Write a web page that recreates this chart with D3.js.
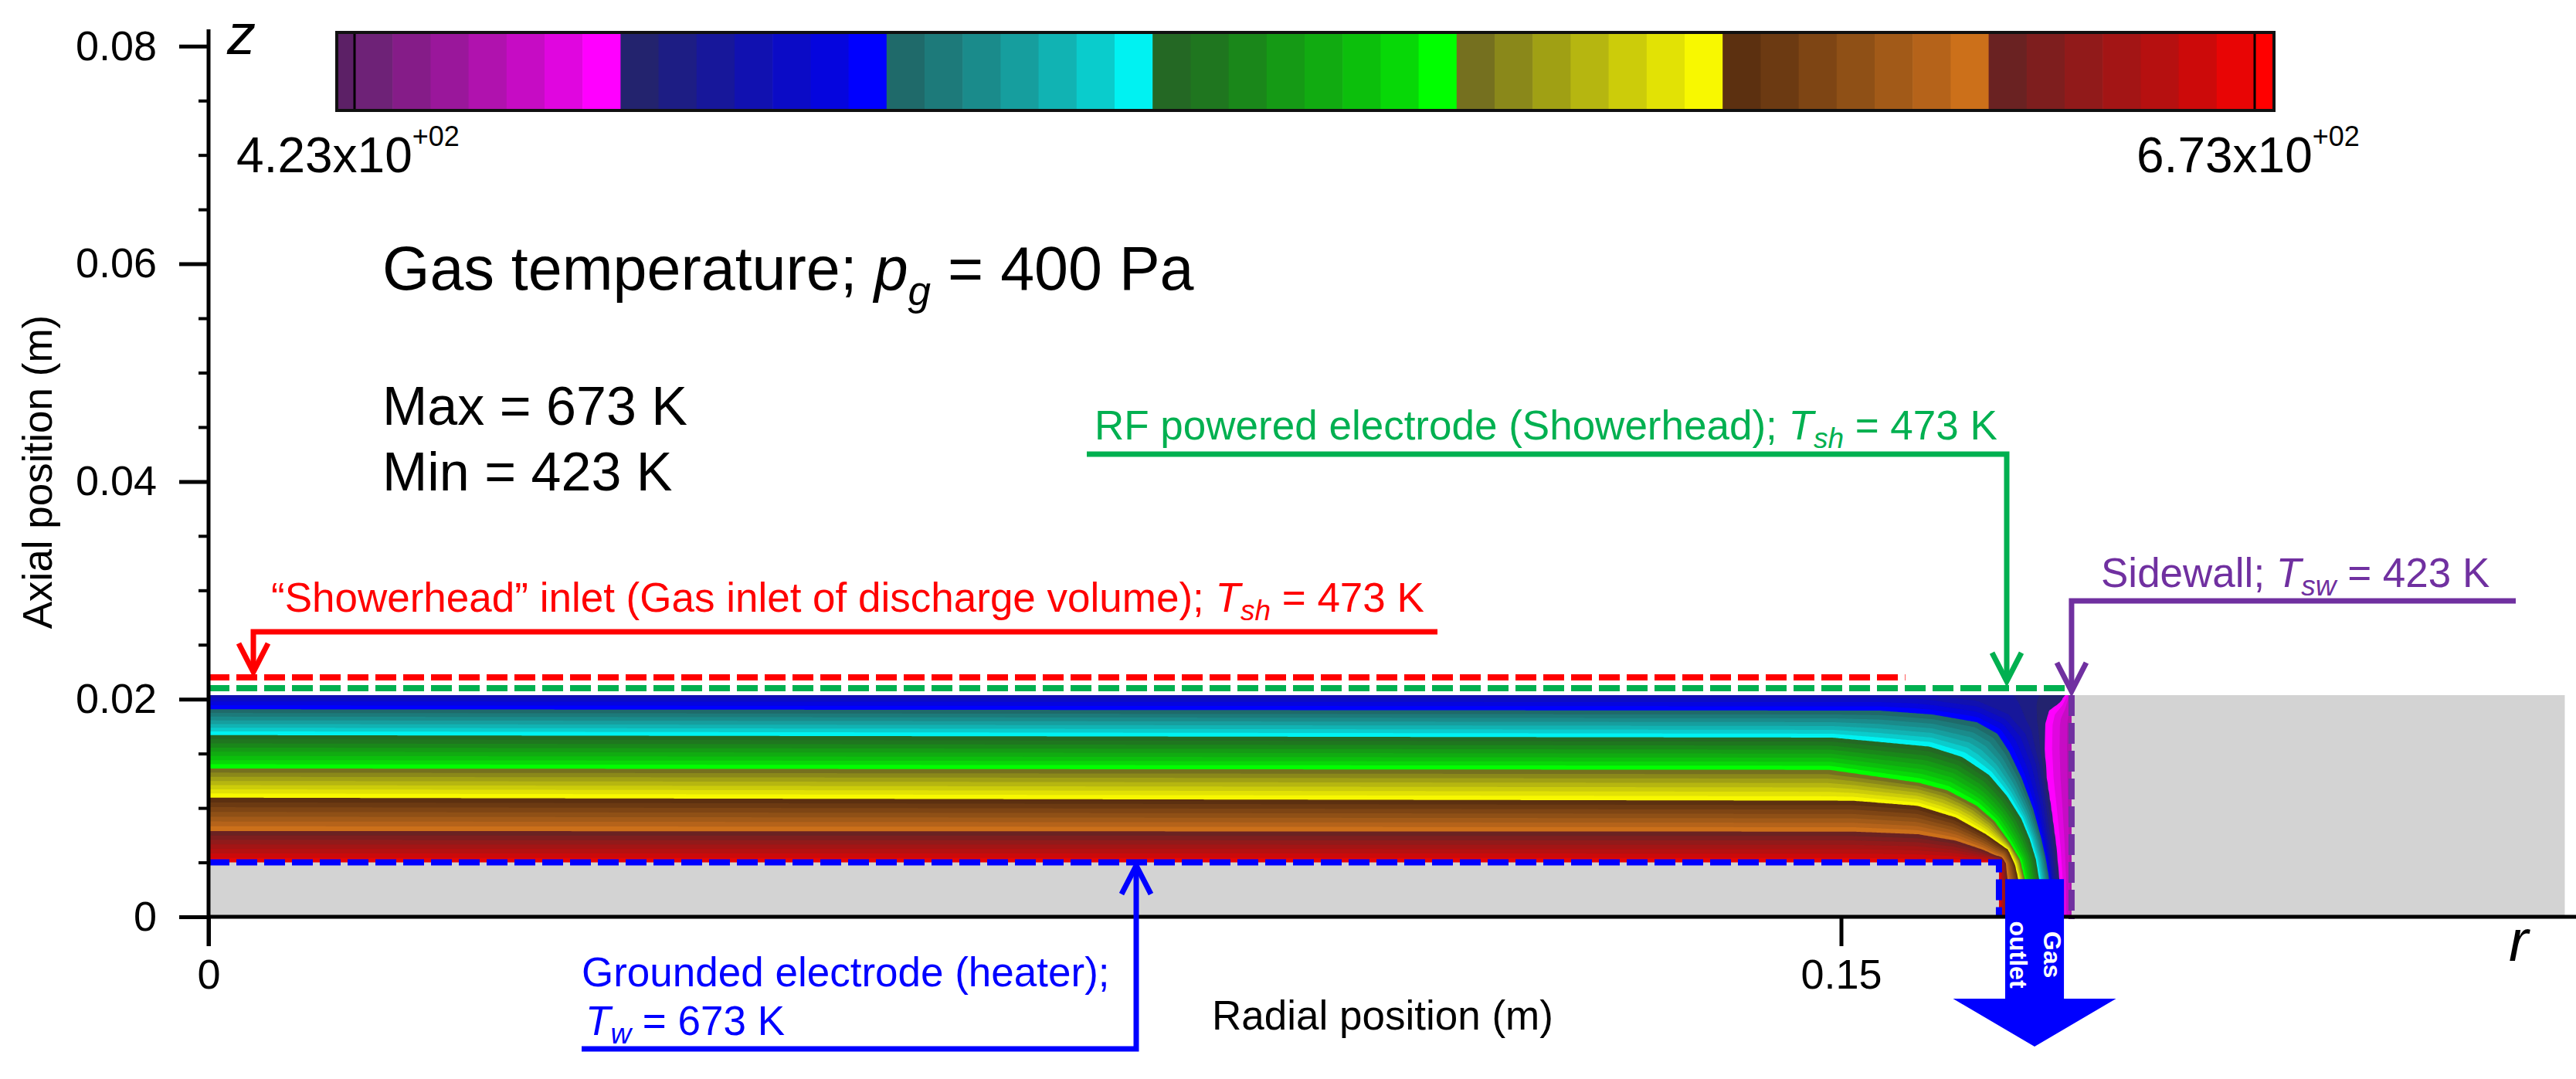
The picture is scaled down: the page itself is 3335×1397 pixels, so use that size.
<!DOCTYPE html>
<html><head><meta charset="utf-8">
<script src="https://cdn.jsdelivr.net/npm/d3@7"></script>
<style>
body{margin:0;background:#fff}
svg{display:block}
text{font-family:"Liberation Sans",Arial,Helvetica,sans-serif;white-space:pre}
</style>
</head><body>
<svg id="chart" width="3335" height="1397"></svg>
<script>
// ===================== DATA =====================
const tempMin = 423, tempMax = 673;      // K (colour range, Min / Max)
const levelStep = 5;                      // K between contour levels
const pressure = 400;                     // Pa
const yTicksMajor = [0, 0.02, 0.04, 0.06, 0.08];
const yTicksMinor = [0.005, 0.01, 0.015, 0.025, 0.03, 0.035, 0.045, 0.05, 0.055, 0.065, 0.07, 0.075];
const xTicksMajor = [0, 0.15];

// reactor geometry (m)
const zTop = 0.02037;          // showerhead surface
const zHeater = 0.0050;        // heater surface
const rHeaterEdge = 0.16451;
const rSidewall = 0.17118;
const rRightEnd = 0.2165;
const zInletLine = 0.0220;     // "showerhead" inlet marker
const zShowerLine = 0.0210;    // RF electrode marker
const rInletEnd = 0.1559;
const rShowerEnd = 0.1708;
const outletR = [0.16508, 0.17048];
const zOutletTop = 0.00346;

// isotherms, [r (m), z (m)]
const isoWall = [[0.17118, 0.021], [0.17118, 0]];                                   // 440 K (cells next to sidewall)
const iso458 = [[0.17076,0.02058],[0.17012,0.01966],[0.16913,0.01895],[0.16877,0.01774],[0.16870,0.01540],[0.16891,0.01256],[0.16934,0.00972],[0.16977,0.00653],[0.17005,0.00348],[0.17012,0]];
const iso473 = [[0,0.0205],[0.15685,0.0205],[0.16253,0.01980],[0.16536,0.01859],[0.16693,0.01682],[0.16792,0.01398],[0.16856,0.01043],[0.16906,0.00688],[0.16948,0.00346],[0.16955,0]];
const iso493 = [[0,0.01907],[0.15351,0.01895],[0.15841,0.01859],[0.16246,0.01789],[0.16437,0.01682],[0.16544,0.01517],[0.16657,0.01280],[0.16764,0.00996],[0.16842,0.00712],[0.16884,0.00523],[0.16913,0.00346],[0.16920,0]];
const iso528 = [[0,0.01670],[0.14918,0.01647],[0.15813,0.01564],[0.16111,0.01469],[0.16359,0.01304],[0.16522,0.01114],[0.16657,0.00901],[0.16735,0.00712],[0.16792,0.00523],[0.16820,0.00346],[0.16827,0]];
const iso568 = [[0,0.01363],[0.14890,0.01351],[0.15706,0.01233],[0.15976,0.01162],[0.16246,0.01020],[0.16409,0.00878],[0.16544,0.00688],[0.16643,0.00523],[0.16686,0.00346],[0.16693,0]];
const iso603 = [[0,0.01095],[0.15110,0.01067],[0.15706,0.01020],[0.16054,0.00913],[0.16331,0.00759],[0.16536,0.00617],[0.16600,0.00476],[0.16629,0.00348],[0.16636,0]];
const iso638 = [[0,0.00788],[0.15110,0.00783],[0.15706,0.00759],[0.16054,0.00700],[0.16302,0.00617],[0.16409,0.00568],[0.16480,0.00546],[0.16515,0.00490],[0.16522,0.00405],[0.16529,0.00348],[0.16536,0]];
const isoHeater = [[0,0.0050],[0.16451,0.0050],[0.16451,0]];                        // 673 K
const isothermLevels = [440, 458, 473, 493, 528, 568, 603, 638, 673];
const isothermCurves = [isoWall, iso458, iso473, iso493, iso528, iso568, iso603, iso638, isoHeater];

// ===================== STYLE =====================
const shadeColors = [
  "#6e2277","#851c88","#9a179b","#b012ae","#c60cc4","#e006df","#ff00ff",
  "#23236e","#1d1d84","#17179a","#1111b0","#0b0bc6","#0505de","#0000ff",
  "#1f6a6a","#1d7a7a","#1a8b8b","#169e9e","#11b3b3","#0acccc","#00f2f2",
  "#246824","#1f761f","#1a871a","#159a15","#11ab11","#0cbf0c","#07d807","#00ff00",
  "#75701f","#8a881a","#a0a014","#b6b610","#cccc0a","#e2e205","#f8f800",
  "#5c3010","#6c3a12","#7e4514","#8f5016","#a25a18","#b5631a","#cc701a",
  "#6a2222","#7e1e1e","#911a1a","#a31515","#b61010","#cc0a0a","#e80505"];
const capLow = "#5c2066", capHigh = "#ff0000";
const RED = "#ff0000", GREEN = "#00b050", BLUE = "#0000ff", PURPLE = "#7030a0", GRAY = "#d3d3d3";
const PXM = 14090; // pixels per metre (equal aspect)

const svg = d3.select("#chart");
svg.append("rect").attr("width", 3335).attr("height", 1397).attr("fill", "#fff");

const x = d3.scaleLinear().domain([0, 0.15]).range([270, 270 + 0.15 * PXM]);
const y = d3.scaleLinear().domain([0, 0.08]).range([1187, 1187 - 0.08 * PXM]);

// ===================== FIELD =====================
function segDist(px, py, ax, ay, bx, by) {
  const dx = bx - ax, dy = by - ay, L = dx * dx + dy * dy;
  let t = L ? ((px - ax) * dx + (py - ay) * dy) / L : 0;
  t = Math.max(0, Math.min(1, t));
  return Math.hypot(ax + t * dx - px, ay + t * dy - py);
}
function polyDist(p, pts) {
  let m = Infinity;
  for (let k = 0; k < pts.length - 1; k++)
    m = Math.min(m, segDist(p[0], p[1], pts[k][0], pts[k][1], pts[k + 1][0], pts[k + 1][1]));
  return m;
}
const isos = isothermLevels.map((T, k) => ({
  T, pts: isothermCurves[k], poly: isothermCurves[k].concat([[0, 0], [0, 0.021]])
}));
function tempAt(r, z) {
  let i = -1;
  for (let k = 0; k < isos.length; k++) {
    if (d3.polygonContains(isos[k].poly, [r, z])) i = k; else break;
  }
  if (i < 0) return isos[0].T;
  if (i === isos.length - 1) return isos[i].T;
  const d0 = polyDist([r, z], isos[i].pts), d1 = polyDist([r, z], isos[i + 1].pts);
  return isos[i].T + (isos[i + 1].T - isos[i].T) * d0 / (d0 + d1 || 1);
}
const nx = 1200, ny = 146;
const dr = rSidewall / (nx - 1), dz = zTop / (ny - 1);
const values = new Float64Array(nx * ny);
for (let j = 0; j < ny; j++)
  for (let i = 0; i < nx; i++)
    values[i + j * nx] = tempAt(i * dr, zTop - j * dz);

const thresholds = d3.range(tempMin, tempMax + levelStep / 2, levelStep);
const contours = d3.contours().size([nx, ny]).thresholds(thresholds)(values);
const gridPath = d3.geoPath(d3.geoTransform({
  point: function (px, py) { this.stream.point(x((px - 0.5) * dr), y(zTop - (py - 0.5) * dz)); }
}));
const bandColor = k => k < shadeColors.length ? shadeColors[k] : capHigh;

const defs = svg.append("defs");
defs.append("clipPath").attr("id", "gasClip").append("rect")
  .attr("x", x(0)).attr("y", y(zTop)).attr("width", x(rSidewall) - x(0)).attr("height", y(0) - y(zTop));
svg.append("g").attr("clip-path", "url(#gasClip)")
  .selectAll("path").data(contours).join("path")
  .attr("d", gridPath).attr("fill", (d, k) => bandColor(k));

// gray solid regions
svg.append("rect").attr("x", x(0)).attr("y", y(zHeater)).attr("width", x(rHeaterEdge) - x(0))
  .attr("height", y(0) - y(zHeater)).attr("fill", GRAY);
svg.append("rect").attr("x", x(rSidewall)).attr("y", y(zTop)).attr("width", x(rRightEnd) - x(rSidewall))
  .attr("height", y(0) - y(zTop)).attr("fill", GRAY);

// dashed boundary markers
const dash = "27,9";
function dashed(d, c) {
  svg.append("path").attr("d", d).attr("fill", "none").attr("stroke", c)
    .attr("stroke-width", 8).attr("stroke-dasharray", dash);
}
dashed(`M${x(0)},${y(zInletLine)}H${x(rInletEnd)}`, RED);
dashed(`M${x(0)},${y(zShowerLine)}H${x(rShowerEnd)}`, GREEN);
dashed(`M${x(0)},${y(zHeater)}H${x(rHeaterEdge)}V${y(0)}`, BLUE);
dashed(`M${x(rSidewall)},${y(zTop)}V${y(0) + 3}`, PURPLE);

// ===================== AXES =====================
const fmt = d => d === 0 ? "0" : d3.format(".2f")(d);
const gy = svg.append("g").attr("transform", `translate(${x(0)},0)`)
  .call(d3.axisLeft(y).tickValues(yTicksMajor).tickSize(38).tickPadding(29).tickFormat(fmt));
const gyMinor = svg.append("g").attr("transform", `translate(${x(0)},0)`)
  .call(d3.axisLeft(y).tickValues(yTicksMinor).tickSize(13).tickFormat(""));
const gx = svg.append("g").attr("transform", `translate(0,${y(0)})`)
  .call(d3.axisBottom(x).tickValues(xTicksMajor).tickSize(38).tickPadding(17).tickFormat(fmt));
[gy, gyMinor, gx].forEach(g => {
  g.select(".domain").remove();
  g.attr("font-family", null).attr("font-size", null);
  g.selectAll("line").attr("stroke", "#000").attr("stroke-width", 5);
  g.selectAll("text").attr("font-size", 54).attr("fill", "#000");
});
gyMinor.selectAll("line").attr("stroke-width", 4);
svg.append("line").attr("x1", x(0)).attr("x2", x(0)).attr("y1", 38).attr("y2", y(0) + 38)
  .attr("stroke", "#000").attr("stroke-width", 5);
svg.append("line").attr("x1", x(0)).attr("x2", 3335).attr("y1", y(0)).attr("y2", y(0))
  .attr("stroke", "#000").attr("stroke-width", 5);

svg.append("text").attr("transform", "translate(67,611) rotate(-90)").attr("text-anchor", "middle")
  .attr("font-size", 53).text("Axial position (m)");
svg.append("text").attr("x", 1790).attr("y", 1333).attr("text-anchor", "middle")
  .attr("font-size", 53).text("Radial position (m)");
svg.append("text").attr("x", 294).attr("y", 70).attr("font-size", 74).attr("font-style", "italic").text("z");
svg.append("text").attr("x", 3248).attr("y", 1244).attr("font-size", 76).attr("font-style", "italic").text("r");

// ===================== GAS OUTLET ARROW =====================
const rMid = (outletR[0] + outletR[1]) / 2;
const zShaftBottom = -0.00752, zTip = -0.01192, headHalf = 0.00749;
svg.append("path").attr("fill", BLUE)
  .attr("d", `M${x(outletR[0])},${y(zOutletTop)}V${y(zShaftBottom)}H${x(rMid - headHalf)}` +
    `L${x(rMid)},${y(zTip)}L${x(rMid + headHalf)},${y(zShaftBottom)}H${x(outletR[1])}V${y(zOutletTop)}Z`);
const gOut = svg.append("g").attr("transform", `translate(2646,1236) rotate(90)`)
  .attr("fill", "#fff").attr("font-weight", "bold").attr("font-size", 32).attr("text-anchor", "middle");
gOut.append("text").attr("x", 0).attr("y", 0).text("Gas");
gOut.append("text").attr("x", 0).attr("y", 44).text("outlet");

// ===================== ANNOTATIONS =====================
function leader(d, c) {
  svg.append("path").attr("d", d).attr("fill", "none").attr("stroke", c).attr("stroke-width", 7)
    .attr("stroke-linejoin", "miter");
}
function chevron(tx, ty, dir, c) { // dir = +1 pointing down, -1 pointing up
  leader(`M${tx - 19},${ty - dir * 37}L${tx},${ty}L${tx + 19},${ty - dir * 37}`, c);
}
// red: showerhead inlet
const redTipX = 328, redTipY = y(zInletLine) - 7;
leader(`M1861,818H${redTipX}V${redTipY}`, RED);
chevron(redTipX, redTipY, 1, RED);
// green: RF electrode
const grTipX = 2598, grTipY = y(zShowerLine) - 9;
leader(`M1407,588H${grTipX}V${grTipY}`, GREEN);
chevron(grTipX, grTipY, 1, GREEN);
// purple: sidewall
const puTipX = x(rSidewall), puTipY = y(zTop) - 5;
leader(`M3257,778H${puTipX}V${puTipY}`, PURPLE);
chevron(puTipX, puTipY, 1, PURPLE);
// blue: heater
const blTipX = 1471, blTipY = y(zHeater) + 4;
leader(`M753,1358H${blTipX}V${blTipY}`, BLUE);
chevron(blTipX, blTipY, -1, BLUE);

function richText(xp, yp, size, color, parts) {
  const t = svg.append("text").attr("x", xp).attr("y", yp).attr("font-size", size).attr("fill", color);
  parts.forEach(p => {
    const s = t.append("tspan").text(p.t);
    if (p.i) s.attr("font-style", "italic");
    if (p.s) s.attr("font-size", p.s);
    if (p.dy) s.attr("dy", p.dy);
  });
  return t;
}
richText(351, 792, 53, RED, [
  { t: "\u201CShowerhead\u201D inlet (Gas inlet of discharge volume); " },
  { t: "T", i: 1 }, { t: "sh", i: 1, s: 37, dy: 11 }, { t: " = 473 K", dy: -11 }]);
richText(1417, 569, 53, GREEN, [
  { t: "RF powered electrode (Showerhead); " },
  { t: "T", i: 1 }, { t: "sh", i: 1, s: 37, dy: 11 }, { t: " = 473 K", dy: -11 }]);
richText(2720, 760, 53, PURPLE, [
  { t: "Sidewall; " },
  { t: "T", i: 1 }, { t: "sw", i: 1, s: 37, dy: 11 }, { t: " = 423 K", dy: -11 }]);
richText(753, 1277, 53, BLUE, [{ t: "Grounded electrode (heater);" }]);
richText(758, 1340, 53, BLUE, [
  { t: "T", i: 1 }, { t: "w", i: 1, s: 37, dy: 11 }, { t: " = 673 K", dy: -11 }]);

richText(495, 375, 79, "#000", [
  { t: "Gas temperature; " },
  { t: "p", i: 1 }, { t: "g", i: 1, s: 53, dy: 20 }, { t: ` = ${pressure} Pa`, dy: -20 }]);
richText(495, 550, 70, "#000", [{ t: `Max = ${tempMax} K` }]);
richText(495, 635, 70, "#000", [{ t: `Min = ${tempMin} K` }]);

// ===================== COLOUR BAR =====================
const cb = d3.scaleLinear().domain([tempMin, tempMax]).range([459, 2919]);
const cbY0 = 42, cbY1 = 143;
const gcb = svg.append("g");
gcb.selectAll("rect.band").data(thresholds.slice(0, -1)).join("rect").attr("class", "band")
  .attr("x", t => cb(t)).attr("width", t => cb(t + levelStep) - cb(t) + 0.6)
  .attr("y", cbY0).attr("height", cbY1 - cbY0).attr("fill", (t, k) => shadeColors[k]);
gcb.append("rect").attr("x", cb(tempMin) - 23).attr("width", 23).attr("y", cbY0).attr("height", cbY1 - cbY0).attr("fill", capLow);
gcb.append("rect").attr("x", cb(tempMax)).attr("width", 25).attr("y", cbY0).attr("height", cbY1 - cbY0).attr("fill", capHigh);
[cb(tempMin), cb(tempMax)].forEach(v => gcb.append("line").attr("x1", v).attr("x2", v)
  .attr("y1", cbY0).attr("y2", cbY1).attr("stroke", "#000").attr("stroke-width", 3));
gcb.append("rect").attr("x", cb(tempMin) - 23).attr("y", cbY0).attr("width", cb(tempMax) + 25 - (cb(tempMin) - 23))
  .attr("height", cbY1 - cbY0).attr("fill", "none").attr("stroke", "#111").attr("stroke-width", 4);

function sciLabel(v, xp) {
  const e = Math.floor(Math.log10(v));
  const m = (v / Math.pow(10, e)).toFixed(2);
  richText(xp, 223, 64, "#000", [
    { t: `${m}x10` }, { t: (e >= 0 ? "+" : "-") + String(Math.abs(e)).padStart(2, "0"), s: 36, dy: -34 }]);
}
sciLabel(tempMin, 306);
sciLabel(tempMax, 2766);
</script>
</body></html>
